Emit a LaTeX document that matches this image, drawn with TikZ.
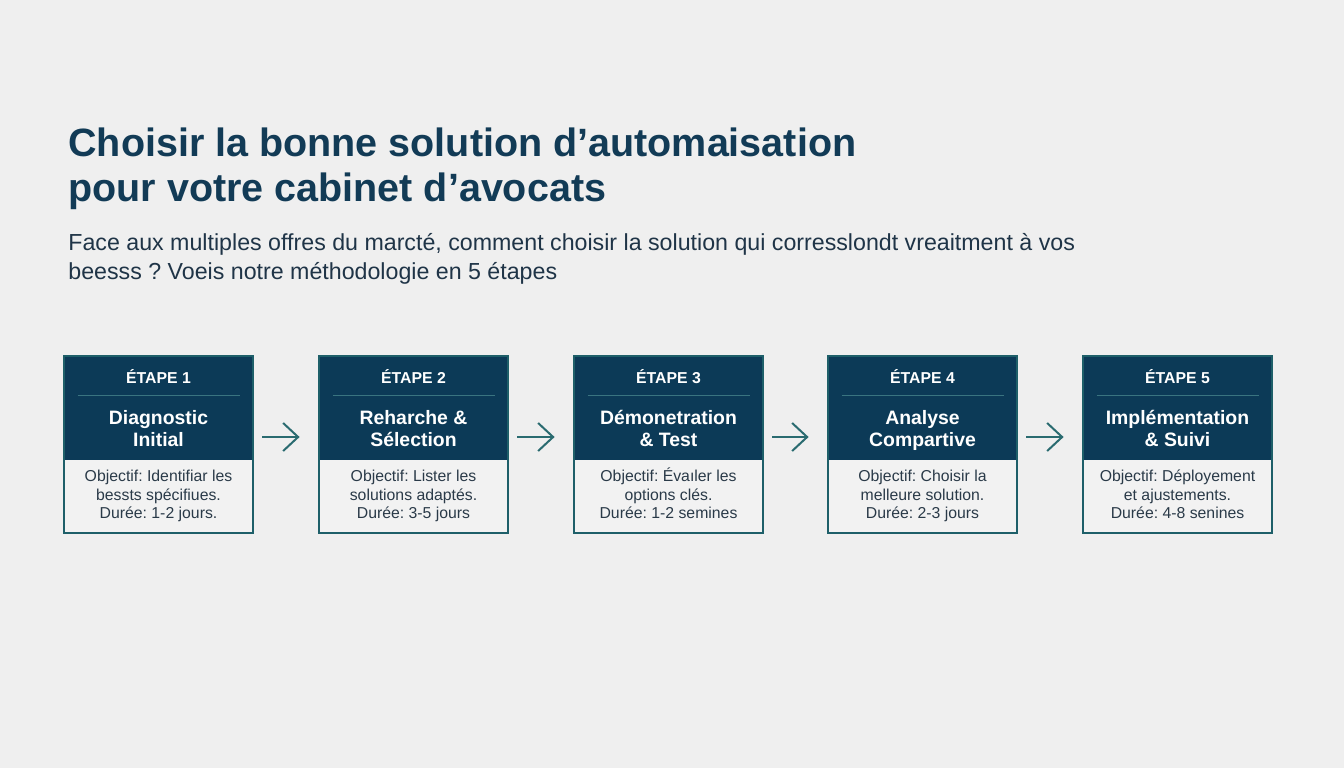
\documentclass[tikz,border=0pt]{standalone}
\usepackage{fontspec}
\setmainfont{Liberation Sans}
\frenchspacing
\usetikzlibrary{arrows.meta,calc}
\definecolor{bg}{HTML}{EFEFEF}
\definecolor{navy}{HTML}{0C3A57}
\definecolor{bord}{HTML}{1E5F69}
\definecolor{sepc}{HTML}{3A7480}
\definecolor{light}{HTML}{F2F2F2}
\definecolor{arrc}{HTML}{2A6B70}
\definecolor{titlec}{HTML}{123B56}
\definecolor{subc}{HTML}{1F3447}
\definecolor{bodyc}{HTML}{2A3A48}
\newcommand{\tstrut}{\rule{0pt}{0.95em}}
\newcommand{\bstrut}{\rule[-0.25em]{0pt}{0pt}}
\tikzset{
  boxbase/.style={minimum width=94.5pt,minimum height=88.5pt,inner sep=0pt,fill=light},
  boxline/.style={draw=bord,line width=1pt},
  sepline/.style={draw=sepc,line width=0.8pt},
  etape/.style={text=white,font=\fontsize{7.9}{9}\selectfont\bfseries,inner sep=0pt},
  steptitle/.style={text=white,font=\fontsize{9.7}{11}\selectfont\bfseries,align=center,inner sep=0pt},
  stepbody/.style={text=bodyc,font=\fontsize{7.9}{9.25}\selectfont,align=center,inner sep=0pt},
  arr/.style={draw=arrc,line width=1pt,-{Straight Barb[length=7.5pt,width=14pt,line width=1pt]}},
  ttl/.style={text=titlec,font=\fontsize{19.75}{22.5}\selectfont\bfseries,inner sep=0pt,anchor=base west},
  sub/.style={text=subc,font=\fontsize{11.6}{14.5}\selectfont,inner sep=0pt,anchor=base west}
}
\newcommand{\stepbox}[5]{%
  \node[boxbase] (s#1) at (#2,444.5) {};
  \fill[navy] (s#1.north west) rectangle ($(s#1.north east)+(0,104)$);
  \draw[boxline] (s#1.north west) rectangle (s#1.south east);
  \node[etape] (e#1) at ($(s#1.north)+(0,21)$) {ÉTAPE #1};
  \draw[sepline] ($(s#1.north west)+(14,40)$) -- ($(s#1.north east)+(-13,40)$);
  \node[steptitle] (t#1) at ($(s#1.north)+(0,73)$) {\tstrut #3\bstrut};
  \node[stepbody] (b#1) at ($(s#1.north)+(0,139)$) {\tstrut #4\\#5\bstrut};
}
\begin{document}
\begin{tikzpicture}[x=0.5pt,y=-0.5pt]
\fill[bg] (0,0) rectangle (1344,768);
\useasboundingbox (0,0) rectangle (1344,768);
\node[ttl] (title1) at (68,156) {Choisir la bonne solution d’automaisation};
\node[ttl] (title2) at (68,201) {pour votre cabinet d’avocats};
\node[sub] (sub1) at (68,250) {Face aux multiples offres du marcté, comment choisir la solution qui corresslondt vreaitment à vos};
\node[sub] (sub2) at (68,279) {beesss ? Voeis notre méthodologie en 5 étapes};
\stepbox{1}{158.5}{Diagnostic\\Initial}{Objectif: Identifiar les\\bessts spécifiues.}{Durée: 1-2 jours.}
\stepbox{2}{413.5}{Reharche \&\\Sélection}{Objectif: Lister les\\solutions adaptés.}{Durée: 3-5 jours}
\stepbox{3}{668.5}{Démonetration\\\& Test}{Objectif: Évaıler les\\options clés.}{Durée: 1-2 semines}
\stepbox{4}{922.5}{Analyse\\Compartive}{Objectif: Choisir la\\melleure solution.}{Durée: 2-3 jours}
\stepbox{5}{1177.5}{Implémentation\\\& Suivi}{Objectif: Déployement\\et ajustements.}{Durée: 4-8 senines}
\foreach \a/\b in {1/2,2/3,3/4,4/5}{
  \draw[arr] ([xshift=4.5pt,yshift=3.75pt]s\a.east) -- ([xshift=-9.5pt,yshift=3.75pt]s\b.west);
}
\end{tikzpicture}
\end{document}
